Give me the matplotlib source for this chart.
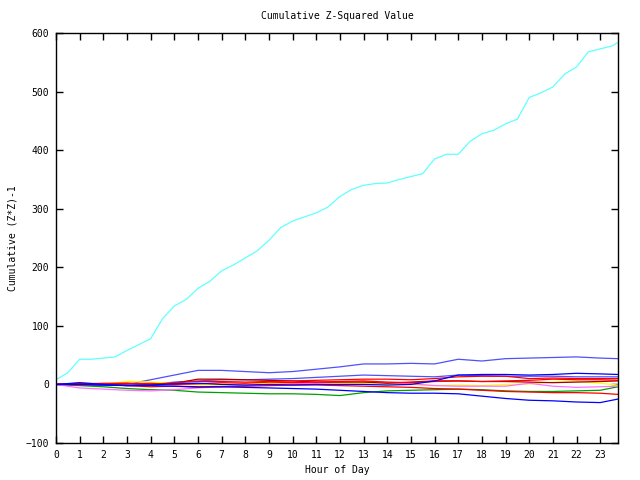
import numpy as np
import matplotlib
matplotlib.use("Agg")
import matplotlib.pyplot as plt

# half-hour grid for the big series, hourly grid for the small ones
hours_half = [h * 0.5 for h in range(48)] + [23.75]
hours = list(range(24)) + [23.75]

cyan_vals = [8, 20, 43, 43, 45, 47, 58, 68, 78, 112, 134, 145, 164, 176, 194, 204,
             216, 228, 246, 268, 279, 286, 293, 303, 321, 333, 340, 343, 344, 350,
             355, 360, 385, 393, 393, 415, 428, 434, 445, 453, 490, 498, 508, 530,
             542, 568, 573, 578, 584]

slate_a = [0, 0, -1, 0, 8, 16, 24, 24, 22, 20, 22, 26, 30, 35, 35, 36, 35, 43, 40, 44, 45, 46, 47, 45, 44]
slate_b = [0, 0, -2, -1, 0, 4, 6, 8, 8, 9, 10, 12, 14, 16, 15, 14, 13, 16, 15, 14, 14, 14, 13, 13, 13]
blue_a = [0, 0, -1, -2, -2, -3, -4, -4, -5, -6, -7, -8, -10, -12, -14, -15, -15, -16, -20, -24, -27, -28, -30, -31, -25]
blue_b = [0, 3, 0, -2, -1, 1, 2, 0, -1, 0, -1, 0, 0, 0, -1, 0, 6, 16, 17, 17, 16, 17, 19, 18, 17]
red_a = [0, 1, 2, 2, 0, 3, 5, 5, 4, 5, 6, 7, 8, 9, 9, 8, 10, 13, 14, 14, 10, 11, 10, 10, 10]
red_b = [0, -1, 0, -2, -4, -3, -5, -4, -3, -2, -1, -1, -2, -3, -4, -5, -7, -8, -10, -12, -13, -14, -14, -15, -17]
red_c = [0, 1, 0, 1, 2, 0, 1, 3, 2, 4, 3, 4, 5, 6, 4, 3, 5, 6, 5, 6, 7, 9, 8, 8, 7]
darkred = [0, 2, 1, 2, 0, 2, 9, 9, 8, 7, 6, 4, 4, 4, 2, 4, 6, 6, 5, 5, 4, 3, 4, 5, 6]
green = [0, -2, -4, -7, -9, -10, -13, -14, -15, -16, -16, -17, -19, -14, -11, -10, -9, -8, -9, -11, -12, -12, -11, -10, -4]
pink = [0, -6, -8, -10, -11, -9, -6, -4, -2, 0, 1, 2, 4, 5, 3, 1, -2, -3, -3, -3, 2, -3, -5, -4, -3]
yellow = [0, 1, 0, 5, 4, 2, 0, -2, 0, 2, 1, 0, 1, 2, -1, 0, -2, -1, -2, 0, 1, 4, 5, 2, -1]

small = [
    (slate_a, "#5050ff"), (slate_b, "#5050ff"),
    (green, "#00a000"), (yellow, "#ffff00"), (pink, "#ff70ff"),
    (darkred, "#a00000"), (red_c, "#ff0000"), (red_b, "#ff0000"),
    (red_a, "#ff0000"), (blue_a, "#0000ff"), (blue_b, "#0000ff"),
]

plt.rcParams['font.family'] = ['DejaVu Sans Mono']
fig = plt.figure(figsize=(6.4, 4.8), dpi=100)
ax = fig.add_axes([0.0875, 0.0771, 0.878, 0.854])

ax.plot(hours_half, cyan_vals, color="#60ffff", lw=0.9)
for vals, col in small:
    ax.plot(hours, vals, color=col, lw=0.9)

ax.set_xlim(0, 23.75)
ax.set_ylim(-100, 600)
ax.set_xticks(range(24))
ax.set_yticks(range(-100, 601, 100))
ax.tick_params(direction="in", top=True, right=True, length=5, width=1,
               labelsize=7, pad=5)
for s in ax.spines.values():
    s.set_linewidth(1)

ax.set_title("Cumulative Z-Squared Value", fontsize=7, pad=10)
ax.set_xlabel("Hour of Day", fontsize=7, labelpad=4)
ax.set_ylabel("Cumulative (Z*Z)-1", fontsize=7, labelpad=6)

fig.savefig("out.png", dpi=100)
